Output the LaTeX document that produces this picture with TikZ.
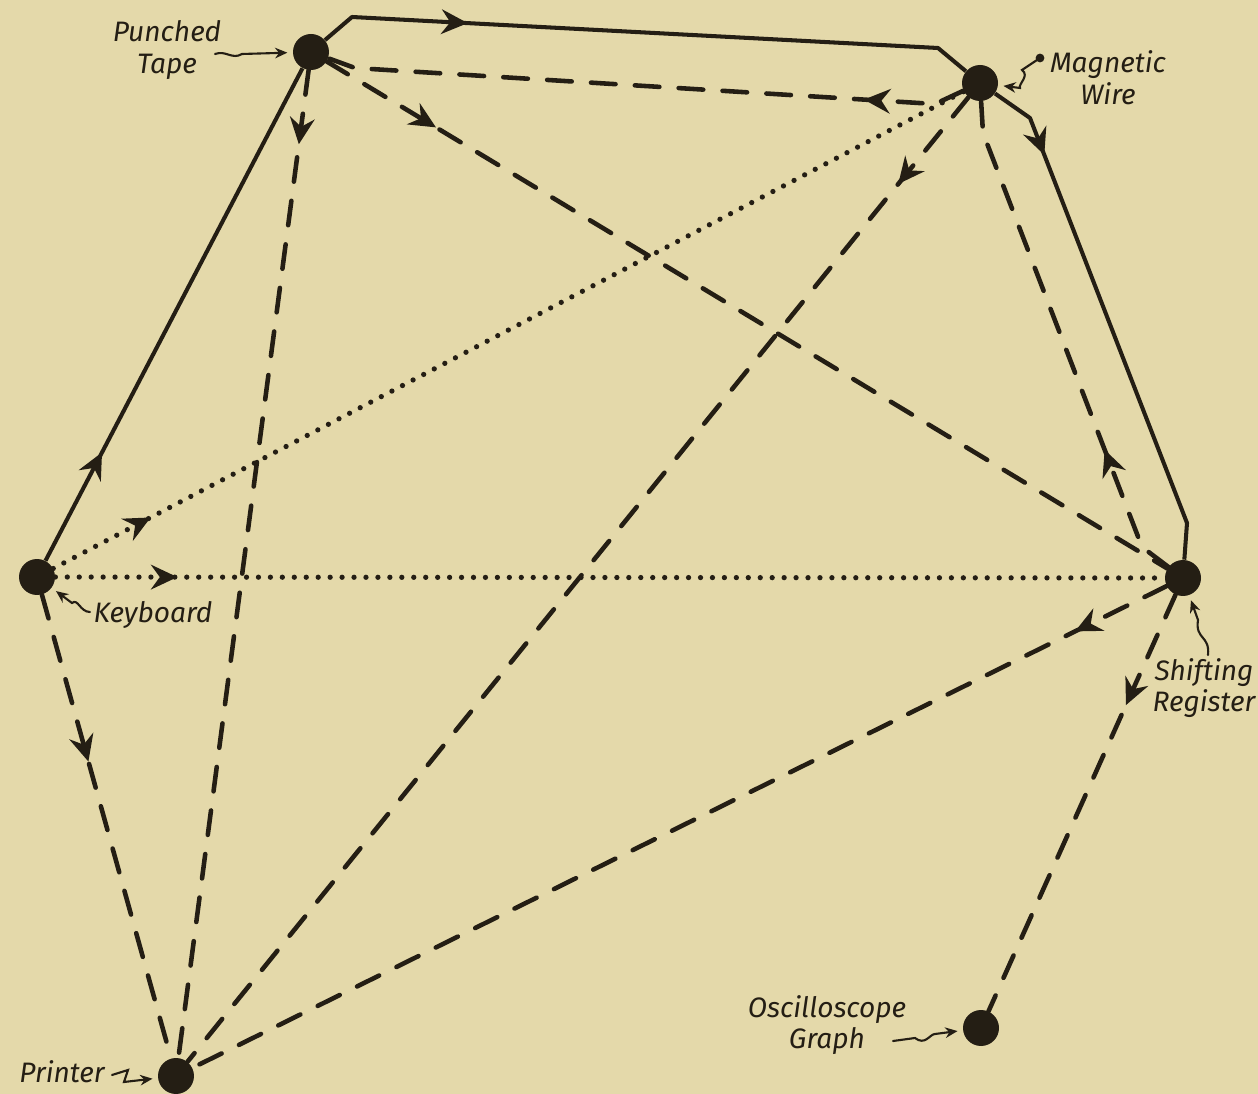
\documentclass[tikz,border=0pt]{standalone}
\usepackage{fontspec}
\setmainfont{Fira Sans}
\usetikzlibrary{arrows.meta,decorations.markings}
\definecolor{paper}{RGB}{228,217,170}
\definecolor{ink}{RGB}{36,30,20}
\begin{document}
\begin{tikzpicture}[x=0.02cm,y=-0.02cm,
  dot/.style={circle,fill=ink,inner sep=0pt,minimum size=0.72cm},
  lab/.style={font=\itshape\fontsize{16}{16}\selectfont,text=ink,align=center,inner sep=1pt},
  solidline/.style={color=ink,line width=2.3pt,line join=round},
  dashline/.style={color=ink,line width=2.6pt,line cap=round,line join=round,dash pattern=on 14pt off 11pt},
  dotline/.style={color=ink,line width=3pt,line cap=round,dash pattern=on 0pt off 6.8pt},
  arrowat/.style={postaction={solid,decorate,decoration={markings,mark=at position #1 with {\arrow{Stealth[length=15pt,width=14pt,inset=5pt]}}}}},
  squig/.style={color=ink,line width=1.2pt,line cap=round,-{Stealth[length=7pt,width=6pt]},shorten >=3pt}]
\useasboundingbox (0,0) rectangle (1258,1094);
\fill[paper] (0,0) rectangle (1258,1094);

% stations
\node[dot] (PT) at (311,52) {};
\node[dot] (MW) at (980,83) {};
\node[dot] (KB) at (37,577) {};
\node[dot] (SR) at (1183,578) {};
\node[dot] (PR) at (176,1076) {};
\node[dot] (OG) at (981,1028) {};

% labels
\node[lab] (PTl) at (167,50) {Punched\\[2pt]Tape};
\node[lab] (MWl) at (1108,78) {Magnetic\\[2pt]Wire};
\node[lab] (KBl) at (153,615) {Keyboard};
\node[lab] (SRl) at (1204,688) {Shifting\\[2pt]Register};
\node[lab] (PRl) at (62,1072) {Printer};
\node[lab] (OGl) at (827,1025) {Oscilloscope\\[2pt]Graph};

% label pointers
\coordinate (ptq) at (215,54);
\coordinate (mwq) at (1040,58);
\coordinate (kbq) at (90,612);
\coordinate (srq) at (1208,655);
\coordinate (prq) at (112,1075);
\coordinate (ogq) at (893,1041);
\draw[squig] (ptq) .. controls (226,50) and (232,60) .. (242,54) -- (PT);
\fill[ink] (mwq) circle (2.5pt);
\draw[squig] (mwq) -- (1022,70) .. controls (1030,76) and (1018,84) .. (1020,88) -- (MW);
\draw[squig] (kbq) .. controls (80,612) and (78,598) .. (72,603) -- (KB);
\draw[squig] (srq) .. controls (1210,635) and (1195,640) .. (1198,620) -- (SR);
\draw[squig] (prq) -- (128,1070) -- (124,1082) -- (PR);
\draw[squig] (ogq) -- (915,1038) .. controls (925,1046) and (930,1034) .. (935,1034) -- (OG);

% solid connectors
\draw[solidline,arrowat=0.22] (KB) -- (PT);
\draw[solidline,arrowat=0.23] (PT) -- (352,17) -- (938,48) -- (MW);
\draw[solidline,arrowat=0.16] (MW) -- (1030,118) -- (1187,523) -- (SR);

% dashed connectors
\draw[dashline,arrowat=0.16] (MW) -- (935,104) -- (355,68) -- (PT);
\draw[dashline,arrowat=0.13] (PT) -- (SR);
\draw[dashline,arrowat=0.075] (PT) -- (PR);
\draw[dashline,arrowat=0.09] (MW) -- (PR);
\draw[dashline,arrowat=0.27] (SR) -- (1142,547) -- (983,133) -- (MW);
\draw[dashline,arrowat=0.094] (SR) -- (PR);
\draw[dashline,arrowat=0.265] (SR) -- (OG);
\draw[dashline,arrowat=0.36] (KB) -- (PR);

% dotted connectors
\draw[dotline,arrowat=0.107] (KB) -- (MW);
\draw[dotline,arrowat=0.11] (KB) -- (SR);
\end{tikzpicture}
\end{document}
